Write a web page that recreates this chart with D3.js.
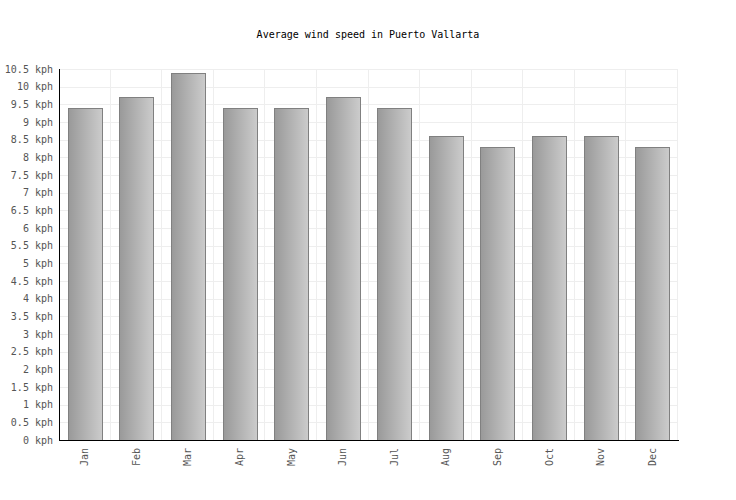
<!DOCTYPE html>
<html>
  <head>
    <meta charset="utf-8">
    <script src="https://cdn.jsdelivr.net/npm/d3@7"></script>
    <style>
      body { margin: 0; background: #fff; }
      text { font-family: "DejaVu Sans Mono", monospace; }
    </style>
  </head>
  <body>
    <script type="text/javascript">
      // values
      var months = ["Jan","Feb","Mar","Apr","May","Jun","Jul","Aug","Sep","Oct","Nov","Dec"];
      var windSpeed = [9.4, 9.7, 10.4, 9.4, 9.4, 9.7, 9.4, 8.6, 8.3, 8.6, 8.6, 8.3];
      var yTicks = d3.range(0, 10.51, 0.5);
      var chartTitle = "Average wind speed in Puerto Vallarta";

      var width = 736, height = 500;
      var margin = {top: 69, right: 58, bottom: 60, left: 59};
      var innerW = width - margin.left - margin.right,
          innerH = height - margin.top - margin.bottom;

      var svg = d3.select("body")
        .append("svg")
          .attr("width", width)
          .attr("height", height);

      // grey left-to-right gradient for the bars
      var grad = svg.append("defs").append("linearGradient")
          .attr("id", "barGrad")
          .attr("x1", "0%").attr("x2", "100%")
          .attr("y1", "0%").attr("y2", "0%");
      grad.append("stop").attr("offset", "0%").attr("stop-color", "#999999");
      grad.append("stop").attr("offset", "100%").attr("stop-color", "#cccccc");

      svg.append("text")
        .attr("x", width / 2)
        .attr("y", 38)
        .attr("text-anchor", "middle")
        .style("font-size", "10px")
        .style("fill", "#000")
        .text(chartTitle);

      var g = svg.append("g")
        .attr("transform", "translate(" + margin.left + "," + margin.top + ")");

      var x = d3.scaleBand().domain(months).range([0, innerW]).paddingInner(0.34).paddingOuter(0.17);
      var y = d3.scaleLinear().domain([0, 10.5]).range([innerH, 0]);

      // grid: horizontal every 0.5, vertical at category boundaries
      g.append("g").selectAll("line.h")
        .data(yTicks)
        .enter().append("line")
          .attr("x1", 0).attr("x2", innerW)
          .attr("y1", function (d) { return Math.round(y(d)) + 0.5; })
          .attr("y2", function (d) { return Math.round(y(d)) + 0.5; })
          .style("stroke", "#eeeeee");

      var step = innerW / months.length;
      g.append("g").selectAll("line.v")
        .data(d3.range(1, months.length + 1))
        .enter().append("line")
          .attr("x1", function (i) { return Math.round(i * step) - 0.5; })
          .attr("x2", function (i) { return Math.round(i * step) - 0.5; })
          .attr("y1", 0).attr("y2", innerH)
          .style("stroke", "#eeeeee");

      // bars
      g.selectAll("rect.bar")
        .data(windSpeed)
        .enter().append("rect")
          .attr("class", "bar")
          .attr("x", function (d, i) { return Math.round(x(months[i])) + 0.5; })
          .attr("y", function (d) { return Math.round(y(d)) + 0.5; })
          .attr("width", Math.round(x.bandwidth()))
          .attr("height", function (d) { return Math.round(innerH - y(d)); })
          .style("fill", "url(#barGrad)")
          .style("stroke", "#808080")
          .style("stroke-width", 1);

      // axes
      var yAxis = d3.axisLeft(y)
        .tickValues(yTicks)
        .tickSize(0)
        .tickPadding(6)
        .tickFormat(function (d) { return d + " kph"; });
      var ya = g.append("g").call(yAxis);
      ya.select(".domain").remove();
      ya.selectAll("text")
        .style("font-size", "10px")
        .style("fill", "#555")
        .style("font-family", "'DejaVu Sans Mono', monospace");

      var xAxis = d3.axisBottom(x).tickSize(0);
      var xa = g.append("g")
        .attr("transform", "translate(0," + innerH + ")")
        .call(xAxis);
      xa.select(".domain").remove();
      xa.selectAll("text")
        .attr("transform", "rotate(-90)")
        .attr("x", -8)
        .attr("y", 0)
        .attr("dy", "0.35em")
        .attr("text-anchor", "end")
        .style("font-size", "10px")
        .style("fill", "#555")
        .style("font-family", "'DejaVu Sans Mono', monospace");

      // black axis lines
      g.append("line")
        .attr("x1", 0.5).attr("x2", 0.5)
        .attr("y1", 0).attr("y2", innerH + 0.5)
        .style("stroke", "#000");
      g.append("line")
        .attr("x1", 0).attr("x2", innerW + 1)
        .attr("y1", innerH + 0.5).attr("y2", innerH + 0.5)
        .style("stroke", "#000");
    </script>
  </body>
</html>
